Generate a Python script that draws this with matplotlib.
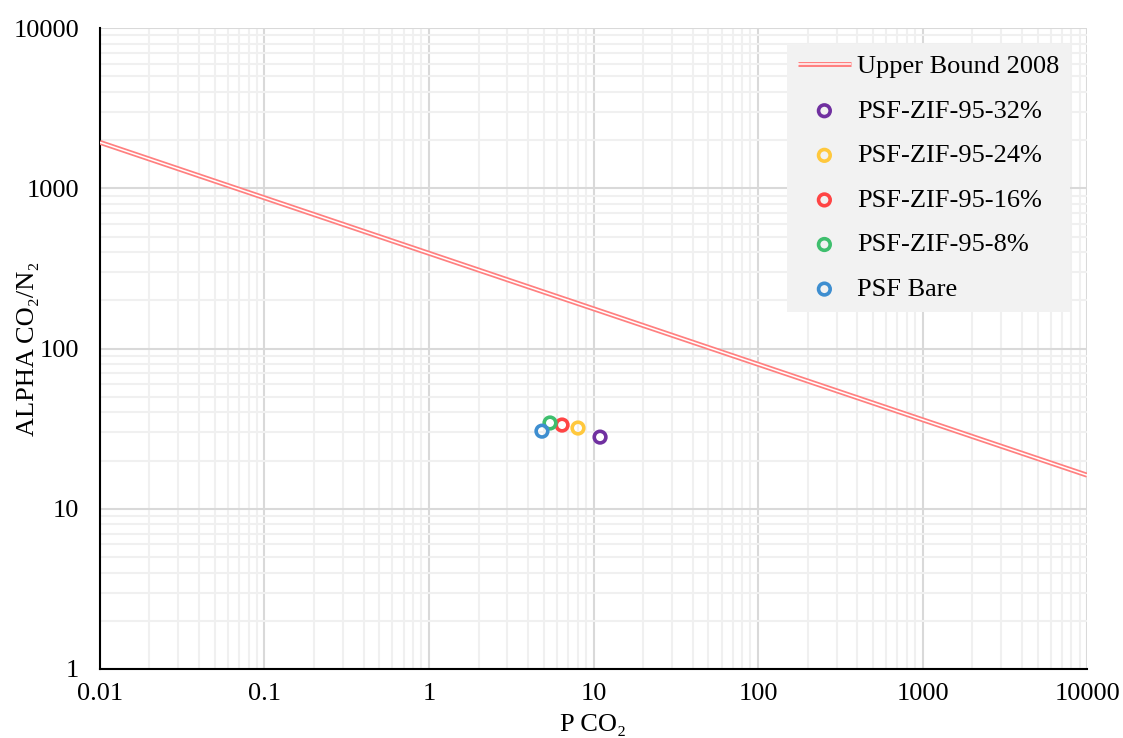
import matplotlib
matplotlib.use("Agg")
import matplotlib.pyplot as plt
from matplotlib.ticker import LogLocator, FixedLocator, FixedFormatter
from matplotlib.legend_handler import HandlerTuple

plt.rcParams['font.family'] = ['Liberation Serif', 'DejaVu Serif']

# Robeson upper bound 2008 (CO2/N2), endpoints
bound_x = [0.01, 10000]
bound_y = [1935, 16.2]

series_names = ["PSF-ZIF-95-32%", "PSF-ZIF-95-24%", "PSF-ZIF-95-16%",
                "PSF-ZIF-95-8%", "PSF Bare"]
p_co2 = [10.96, 8.05, 6.44, 5.44, 4.86]
alpha = [28.0, 31.9, 33.3, 34.3, 30.5]
colors = ["#7030A0", "#FFC83D", "#FF4545", "#3FBF6E", "#3E8ED0"]

tick_vals = [0.01, 0.1, 1, 10, 100, 1000, 10000]
tick_labels = ["0.01", "0.1", "1", "10", "100", "1000", "10000"]
ytick_vals = [1, 10, 100, 1000, 10000]
ytick_labels = ["1", "10", "100", "1000", "10000"]

FS = 19

fig = plt.figure(figsize=(11.23, 7.38), dpi=100)
ax = fig.add_axes([0.089, 0.0935, 0.879, 0.8685])
ax.set_xscale("log")
ax.set_yscale("log")
ax.set_xlim(0.01, 10000)
ax.set_ylim(1, 10000)

# double ("compound") line: thick pink with a thin white core
outer, = ax.plot(bound_x, bound_y, color="#FF8080", lw=3.6, zorder=3,
                 solid_capstyle="butt")
inner, = ax.plot(bound_x, bound_y, color="white", lw=1.1, zorder=4,
                 solid_capstyle="butt")

handles = [(outer, inner)]
labels = ["Upper Bound 2008"]
for name, x, y, c in zip(series_names, p_co2, alpha, colors):
    h = ax.scatter([x], [y], s=70, facecolors="none", edgecolors=c,
                   linewidths=2.6, zorder=5)
    handles.append(h)
    labels.append(name)

ax.xaxis.set_major_locator(FixedLocator(tick_vals))
ax.xaxis.set_major_formatter(FixedFormatter(tick_labels))
ax.yaxis.set_major_locator(FixedLocator(ytick_vals))
ax.yaxis.set_major_formatter(FixedFormatter(ytick_labels))
ax.xaxis.set_minor_locator(LogLocator(base=10, subs=range(2, 10), numticks=20))
ax.yaxis.set_minor_locator(LogLocator(base=10, subs=range(2, 10), numticks=20))
ax.tick_params(which="both", length=0, labelsize=FS)
ax.tick_params(axis="x", pad=10)
ax.tick_params(axis="y", pad=15)

ax.grid(which="major", color="#D9D9D9", lw=1.5)
ax.grid(which="minor", color="#F0F0F0", lw=1.5)
ax.set_axisbelow(True)

for s in ("top", "right"):
    ax.spines[s].set_visible(False)
for s in ("left", "bottom"):
    ax.spines[s].set_linewidth(1.5)
    ax.spines[s].set_color("black")

fig.text(0.5285, 0.018, "P CO\u2082", fontsize=FS, ha="center", va="center")
fig.text(0.025, 0.528, "ALPHA CO\u2082/N\u2082", fontsize=FS, ha="center",
         va="center", rotation=90)

leg = ax.legend(handles, labels, loc="upper right", bbox_to_anchor=(0.983, 0.975),
                borderaxespad=0, fontsize=FS, frameon=True, fancybox=False,
                facecolor="#F2F2F2", edgecolor="none", framealpha=1,
                handlelength=2.0, labelspacing=0.8, borderpad=0.4,
                handletextpad=0.25,
                handler_map={tuple: HandlerTuple(ndivide=1)})

fig.savefig("out.png", dpi=100)
